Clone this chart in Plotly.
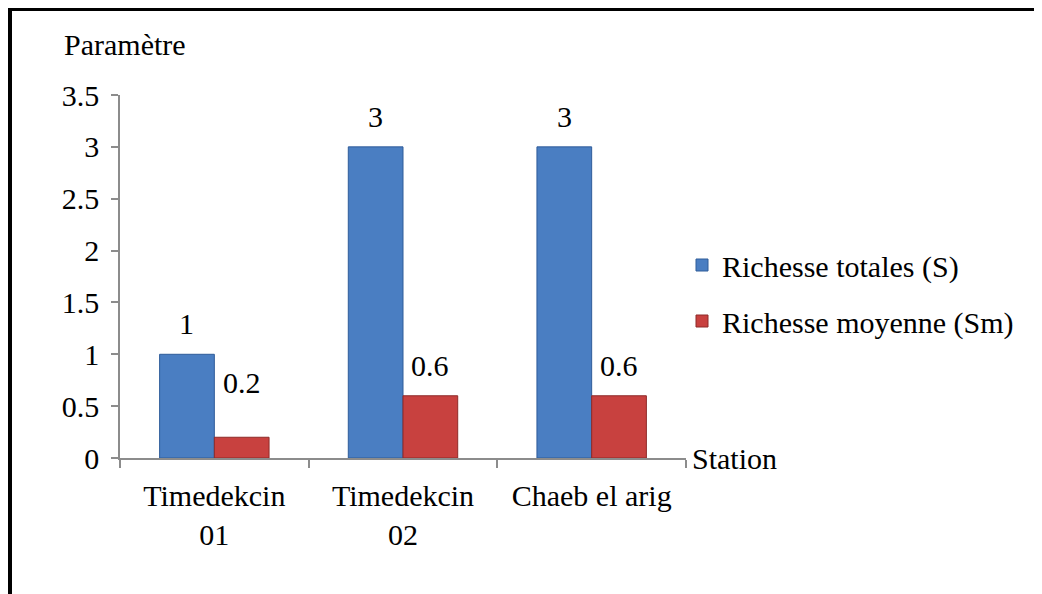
import plotly.graph_objects as go

stations = ["Timedekcin<br>01", "Timedekcin<br>02", "Chaeb el arig"]
richesse_totale = [1, 3, 3]
richesse_moyenne = [0.2, 0.6, 0.6]
y_ticks = [0, 0.5, 1, 1.5, 2, 2.5, 3, 3.5]
y_tick_labels = ["0", "0.5", "1", "1.5", "2", "2.5", "3", "3.5"]

FONT = "Liberation Serif, Times New Roman, serif"
FS = 30
BARGAP = 0.42
# page body has an 8px margin, so the figure is drawn 8px smaller
W, H = 1034, 586
L, R, T, B = 112, 356, 87, 136
pw, ph = W - L - R, H - T - B

def px_x(x):
    return (x - L) / pw

def px_y(y):
    return (H - B - y) / ph

fig = go.Figure()
fig.add_trace(go.Bar(
    x=stations, y=richesse_totale, name="Richesse totales (S)",
    marker=dict(color="#4A7EC2", line=dict(color="#2F5C99", width=1)),
    legendgroup="a",
))
fig.add_trace(go.Bar(
    x=stations, y=richesse_moyenne, name="Richesse moyenne (Sm)",
    marker=dict(color="#C8413F", line=dict(color="#8E2B29", width=1)),
    legendgroup="b",
))

# value labels above the bars (the label of the shortest bar sits higher, as in the source)
bar_px = (pw / len(stations)) * (1 - BARGAP) / 2
for series, side in ((richesse_totale, -1), (richesse_moyenne, 1)):
    for i, (cat, val) in enumerate(zip(stations, series)):
        extra = 24 if (side == 1 and i == 0) else 0
        fig.add_annotation(x=cat, y=val, xref="x", yref="y", text=f"{val:g}",
                           showarrow=False, xanchor="center", yanchor="bottom",
                           xshift=side * bar_px / 2, yshift=12 + extra,
                           font=dict(family=FONT, size=FS, color="black"))

fig.update_layout(
    width=W, height=H,
    margin=dict(l=L, r=R, t=T, b=B, autoexpand=False),
    paper_bgcolor="white", plot_bgcolor="white",
    font=dict(family=FONT, size=FS, color="black"),
    barmode="group", bargap=BARGAP, bargroupgap=0,
    showlegend=True,
    legend=dict(x=px_x(674), y=px_y(231), xanchor="left", yanchor="top",
                font=dict(family=FONT, size=FS, color="black"),
                tracegroupgap=14, itemwidth=30, bgcolor="rgba(0,0,0,0)"),
    xaxis=dict(showline=True, linecolor="#8C8C8C", linewidth=1.5,
               ticks="outside", tickson="boundaries", ticklen=8,
               tickcolor="#8C8C8C", tickwidth=1.5, ticklabelstandoff=10,
               tickfont=dict(family=FONT, size=FS, color="black"),
               showgrid=False, zeroline=False),
    yaxis=dict(range=[0, 3.5], tickvals=y_ticks, ticktext=y_tick_labels,
               showline=True, linecolor="#8C8C8C", linewidth=1.5,
               ticks="outside", ticklen=7, tickcolor="#8C8C8C", tickwidth=1.5,
               ticklabelstandoff=6,
               tickfont=dict(family=FONT, size=FS, color="black"),
               showgrid=False, zeroline=False),
)

fig.add_annotation(text="Paramètre", xref="paper", yref="paper",
                   x=px_x(54), y=px_y(37), xanchor="left", yanchor="middle",
                   showarrow=False, font=dict(family=FONT, size=FS, color="black"))
fig.add_annotation(text="Station", xref="paper", yref="paper",
                   x=px_x(682), y=0, xanchor="left", yanchor="middle",
                   showarrow=False, font=dict(family=FONT, size=FS, color="black"))

# outer frame (left and top edges visible)
fig.add_shape(type="line", xref="paper", yref="paper",
              x0=px_x(2), x1=px_x(2), y0=px_y(0), y1=px_y(620),
              line=dict(color="black", width=4))
fig.add_shape(type="line", xref="paper", yref="paper",
              x0=px_x(0), x1=px_x(1100), y0=px_y(1.5), y1=px_y(1.5),
              line=dict(color="black", width=3))

fig.write_html("out.html")
